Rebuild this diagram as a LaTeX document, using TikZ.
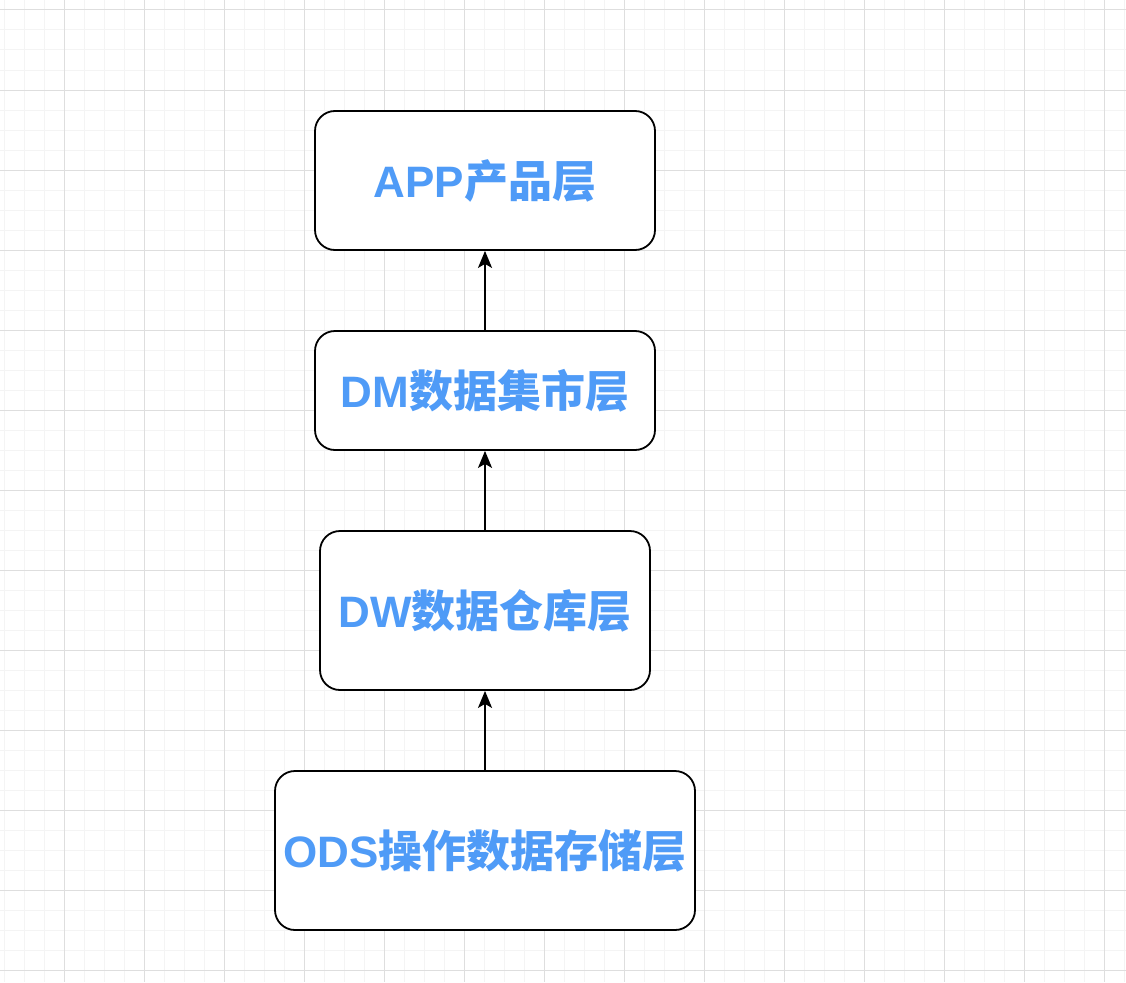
\documentclass[tikz,border=0pt]{standalone}
\usepackage{fontspec}
\setmainfont{Liberation Sans}
\newfontfamily\cjk{Noto Sans CJK SC}
\usetikzlibrary{arrows.meta}
\definecolor{txtblue}{HTML}{4F9BF7}
\definecolor{gridminor}{HTML}{F4F4F4}
\definecolor{gridmajor}{HTML}{DEDEDE}
\tikzset{
  layer/.style={draw=black, line width=1.8pt, rounded corners=20pt, fill=white,
    align=center, inner sep=0pt, text=txtblue,
    font=\bfseries\fontsize{44}{52}\selectfont},
  flow/.style={-{Stealth[length=17pt,width=14pt,inset=4pt]}, line width=1.8pt, black}
}
\begin{document}
\begin{tikzpicture}[x=1pt,y=-1pt]
\useasboundingbox (0,0) rectangle (1126,982);
\fill[white] (0,0) rectangle (1126,982);
\foreach \x in {4,24,...,1124} \draw[gridminor, line width=1pt] (\x,0) -- (\x,982);
\foreach \y in {10,30,...,980} \draw[gridminor, line width=1pt] (0,\y) -- (1126,\y);
\foreach \x in {64,144,...,1124} \draw[gridmajor, line width=1pt] (\x,0) -- (\x,982);
\foreach \y in {10,90,...,980} \draw[gridmajor, line width=1pt] (0,\y) -- (1126,\y);
\node[layer, minimum width=340pt, minimum height=139pt] (app) at (485,180.5) {APP{\cjk 产品层}};
\node[layer, minimum width=340pt, minimum height=119pt] (dm) at (485,390.5) {DM{\cjk 数据集市层}};
\node[layer, minimum width=330pt, minimum height=159pt] (dw) at (485,610.5) {DW{\cjk 数据仓库层}};
\node[layer, minimum width=420pt, minimum height=159pt] (ods) at (485,850.5) {ODS{\cjk 操作数据存储层}};
\draw[flow] (ods.north) -- (dw.south);
\draw[flow] (dw.north) -- (dm.south);
\draw[flow] (dm.north) -- (app.south);
\end{tikzpicture}
\end{document}
